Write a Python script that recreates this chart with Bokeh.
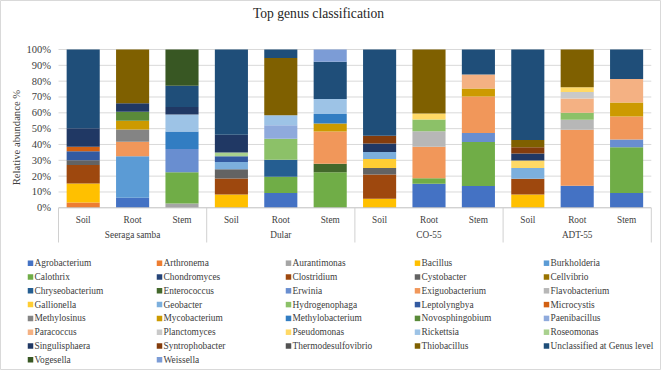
from math import pi
from bokeh.plotting import figure
from bokeh.models import ColumnDataSource, Range1d
from bokeh.core.properties import value
from bokeh.embed import file_html
from bokeh.resources import INLINE

# ---------------- data ----------------
title_text = "Top genus classification"
y_label = "Relative abundance %"
groups = ["Seeraga samba", "Dular", "CO-55", "ADT-55"]
parts = ["Soil", "Root", "Stem"]
y_ticks = [0, 10, 20, 30, 40, 50, 60, 70, 80, 90, 100]
y_tick_labels = ["0%", "10%", "20%", "30%", "40%", "50%", "60%", "70%", "80%", "90%", "100%"]

genera = [
    "Agrobacterium", "Arthronema", "Aurantimonas", "Bacillus", "Burkholderia",
    "Calothrix", "Chondromyces", "Clostridium", "Cystobacter", "Cellvibrio",
    "Chryseobacterium", "Enterococcus", "Erwinia", "Exiguobacterium", "Flavobacterium",
    "Gallionella", "Geobacter", "Hydrogenophaga", "Leptolyngbya", "Microcystis",
    "Methylosinus", "Mycobacterium", "Methylobacterium", "Novosphingobium", "Paenibacillus",
    "Paracoccus", "Planctomyces", "Pseudomonas", "Rickettsia", "Roseomonas",
    "Singulisphaera", "Syntrophobacter", "Thermodesulfovibrio", "Thiobacillus",
    "Unclassified at Genus level",
    "Vogesella", "Weissella",
]
colors = [
    "#4472C4", "#ED7D31", "#A5A5A5", "#FFC000", "#5B9BD5",
    "#70AD47", "#264478", "#9E480E", "#636363", "#997300",
    "#255E91", "#43682B", "#698ED0", "#F1975A", "#B7B7B7",
    "#FFCD33", "#7CAFDD", "#8CC168", "#335AA1", "#D26012",
    "#848484", "#CC9A00", "#327DC2", "#5A8A39", "#8FAADC",
    "#F4B183", "#C9C9C9", "#FFD966", "#9DC3E6", "#A9D18E",
    "#203864", "#843C0C", "#525252", "#7F6000", "#1F4E79",
    "#385723", "#7C9CD6",
]

seeraga_soil = {"Arthronema": 3.4, "Bacillus": 12.0, "Clostridium": 11.6, "Cystobacter": 3.0,
                "Leptolyngbya": 5.7, "Microcystis": 2.9, "Singulisphaera": 11.6,
                "Unclassified at Genus level": 49.8}
seeraga_root = {"Agrobacterium": 6.3, "Burkholderia": 26.3, "Exiguobacterium": 9.1, "Methylosinus": 7.8,
                "Mycobacterium": 5.5, "Novosphingobium": 5.7, "Singulisphaera": 5.3, "Thiobacillus": 34.0}
seeraga_stem = {"Aurantimonas": 2.7, "Calothrix": 19.8, "Erwinia": 14.6, "Methylobacterium": 11.1,
                "Rickettsia": 10.7, "Singulisphaera": 4.7, "Unclassified at Genus level": 13.5,
                "Vogesella": 22.9}
dular_soil = {"Bacillus": 8.4, "Clostridium": 10.1, "Cystobacter": 5.9, "Geobacter": 4.6,
              "Leptolyngbya": 3.5, "Roseomonas": 2.5, "Singulisphaera": 11.2,
              "Unclassified at Genus level": 53.8}
dular_root = {"Agrobacterium": 9.3, "Calothrix": 10.3, "Chryseobacterium": 10.7, "Hydrogenophaga": 13.3,
              "Paenibacillus": 8.6, "Rickettsia": 6.3, "Thiobacillus": 36.2,
              "Unclassified at Genus level": 5.3}
dular_stem = {"Calothrix": 22.5, "Enterococcus": 5.3, "Exiguobacterium": 20.4, "Mycobacterium": 5.1,
              "Methylobacterium": 5.9, "Rickettsia": 9.6, "Unclassified at Genus level": 23.4,
              "Weissella": 7.8}
co55_soil = {"Bacillus": 5.7, "Clostridium": 15.4, "Cystobacter": 4.0, "Gallionella": 5.7,
             "Geobacter": 4.4, "Singulisphaera": 5.4, "Syntrophobacter": 4.9,
             "Unclassified at Genus level": 54.5}
co55_root = {"Agrobacterium": 15.2, "Calothrix": 3.5, "Exiguobacterium": 19.8, "Flavobacterium": 9.9,
             "Hydrogenophaga": 7.4, "Pseudomonas": 3.8, "Thiobacillus": 40.4}
co55_stem = {"Agrobacterium": 13.7, "Calothrix": 27.8, "Erwinia": 5.7, "Exiguobacterium": 23.1,
             "Mycobacterium": 5.1, "Paracoccus": 8.8, "Unclassified at Genus level": 15.8}
adt55_soil = {"Bacillus": 8.4, "Clostridium": 9.9, "Geobacter": 6.8, "Pseudomonas": 4.8,
              "Singulisphaera": 4.4, "Syntrophobacter": 4.0, "Thiobacillus": 4.6,
              "Unclassified at Genus level": 57.1}
adt55_root = {"Agrobacterium": 13.9, "Exiguobacterium": 35.4, "Flavobacterium": 6.3, "Hydrogenophaga": 4.4,
              "Paracoccus": 9.1, "Planctomyces": 4.0, "Pseudomonas": 3.1, "Thiobacillus": 23.8}
adt55_stem = {"Agrobacterium": 9.3, "Calothrix": 29.0, "Erwinia": 4.9, "Exiguobacterium": 14.5,
              "Mycobacterium": 8.8, "Paracoccus": 14.8, "Unclassified at Genus level": 18.7}

samples = [seeraga_soil, seeraga_root, seeraga_stem,
           dular_soil, dular_root, dular_stem,
           co55_soil, co55_root, co55_stem,
           adt55_soil, adt55_root, adt55_stem]

# ---------------- layout ----------------
W, H = 661, 370
PX_PER_CAT = 49.4      # pixels per category slot
PX_PER_PCT = 1.583     # pixels per percent
X0_PX = 58.0           # px of left edge of category axis
Y0_PX = 207.3          # px of 0 %
MARGIN = 0.0

def dx(page_x):
    return (page_x - MARGIN - X0_PX) / PX_PER_CAT

def dy(page_y):
    return (Y0_PX - (page_y - MARGIN)) / PX_PER_PCT

FONT = value("Liberation Serif")
TXT = "#404040"

p = figure(width=W, height=H,
           x_range=Range1d(-X0_PX / PX_PER_CAT, (W - X0_PX) / PX_PER_CAT),
           y_range=Range1d(-(H - Y0_PX) / PX_PER_PCT, Y0_PX / PX_PER_PCT),
           x_axis_type=None, y_axis_type=None,
           output_backend="svg", toolbar_location=None, min_border=0,
           outline_line_color="#D9D9D9", background_fill_color="white",
           border_fill_color="white")
p.grid.visible = False

n_cat = len(samples)

# gridlines
grid_y = y_ticks[1:]
p.segment(x0=[0] * len(grid_y), x1=[n_cat] * len(grid_y), y0=grid_y, y1=grid_y,
          line_color="#D9D9D9", line_width=1)

# stacked bars
data = {"x": [i + 0.5 for i in range(n_cat)]}
for g in genera:
    data[g] = [s.get(g, 0.0) for s in samples]
source = ColumnDataSource(data)
p.vbar_stack(genera, x="x", width=0.67, fill_color=colors, line_color=None, source=source)

# category axis line and group separators
p.segment(x0=[0], x1=[n_cat], y0=[0], y1=[0], line_color="#BFBFBF", line_width=1)
sep_x = [i * len(parts) for i in range(len(groups) + 1)]
p.segment(x0=sep_x, x1=sep_x, y0=[0] * len(sep_x), y1=[dy(242)] * len(sep_x),
          line_color="#D0D0D0", line_width=1)

# category labels
p.text(x=[i + 0.5 for i in range(n_cat)], y=[dy(219)] * n_cat,
       text=parts * len(groups), text_font=FONT, text_font_size="9.3px",
       text_align="center", text_baseline="middle", text_color=TXT)
p.text(x=[i * len(parts) + len(parts) / 2 for i in range(len(groups))], y=[dy(234.5)] * len(groups),
       text=groups, text_font=FONT, text_font_size="9.3px",
       text_align="center", text_baseline="middle", text_color=TXT)

# y tick labels
p.text(x=[dx(50.5)] * len(y_ticks), y=y_ticks, text=y_tick_labels, text_font=FONT,
       text_font_size="10.5px", text_align="right", text_baseline="middle", text_color=TXT)

# y axis label
p.text(x=[dx(15)], y=[dy(137)], text=[y_label], angle=pi / 2, text_font=FONT,
       text_font_size="10.7px", text_align="center", text_baseline="middle", text_color=TXT)

# title
p.text(x=[dx(318)], y=[dy(13)], text=[title_text], text_font=FONT,
       text_font_size="13.6px", text_align="center", text_baseline="middle", text_color="#262626")

# legend
ncol = 5
lx, ly, ltx = [], [], []
for i, g in enumerate(genera):
    r, c = divmod(i, ncol)
    lx.append(dx(30 + 129 * c))
    ltx.append(dx(34 + 129 * c))
    ly.append(dy(262.7 + 13.8 * r))
p.scatter(x=lx, y=ly, marker="square", size=5.5, fill_color=colors, line_color=None)
p.text(x=ltx, y=ly, text=genera, text_font=FONT, text_font_size="9.4px",
       text_align="left", text_baseline="middle", text_color=TXT)

open("out.html", "w").write(file_html(p, INLINE))
